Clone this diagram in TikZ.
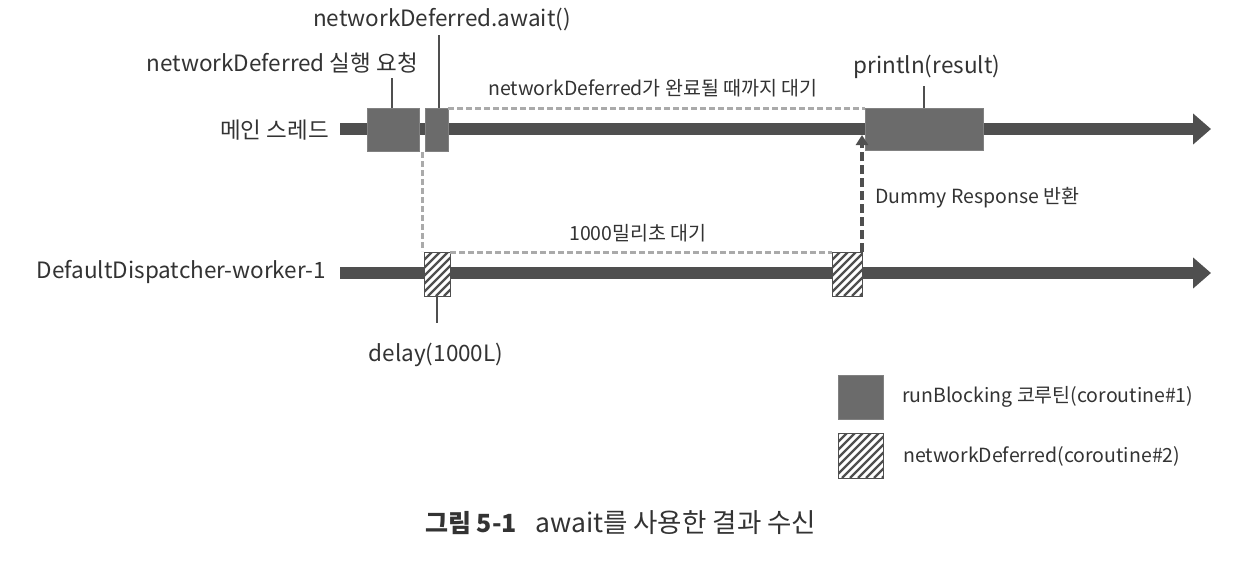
\documentclass[tikz,border=0pt]{standalone}
\usepackage{fontspec}
\setmainfont{Noto Sans CJK KR}
\usetikzlibrary{arrows.meta}
\definecolor{bar}{HTML}{4F4F4F}
\definecolor{box}{HTML}{6B6B6B}
\definecolor{txt}{HTML}{333333}
\definecolor{lite}{HTML}{AAAAAA}
\begin{document}
\begin{tikzpicture}[x=1pt,y=-1pt,
  lbl/.style={font=\fontsize{22.5}{26}\selectfont, text=txt, inner sep=0pt},
  lblsm/.style={font=\fontsize{19.5}{23}\selectfont, text=txt, inner sep=0pt},
  thread/.style={draw=bar, line width=12pt, -{Triangle[length=18pt,width=30pt]}},
  solidbox/.style={fill=box, draw=box!85!white, line width=0.6pt, inner sep=0pt, outer sep=0pt},
  hatchbox/.style={draw=bar, line width=1pt, inner sep=0pt, outer sep=0pt, fill=white,
    path picture={
      \foreach \i in {-100,-92,...,60}
        \draw[bar, line width=2.3pt] ([xshift=\i pt]path picture bounding box.south west) -- ++(100,-100);
    }},
  tick/.style={draw=bar, line width=1.6pt},
  waitline/.style={draw=lite, line width=3pt, dash pattern=on 6pt off 3pt},
  retarrow/.style={draw=bar, line width=3.5pt, dash pattern=on 9pt off 4pt, -{Triangle[length=10pt,width=12pt]}}
]
\useasboundingbox (0,0) rectangle (1242,568);
\fill[white] (0,0) rectangle (1242,568);

% thread lines
\coordinate (m0) at (340,129);
\coordinate (m1) at (1211,129);
\coordinate (w0) at (340,273);
\coordinate (w1) at (1211,273);
\draw[thread] (m0) -- (m1);
\draw[thread] (w0) -- (w1);

\node[lbl, anchor=east] (mainlbl) at (329,130) {메인 스레드};
\node[lbl, anchor=east] (worklbl) at (326,272) {DefaultDispatcher-worker-1};

% main thread boxes
\node[solidbox, anchor=north west, minimum width=52, minimum height=43] (b1) at (367,108) {};
\node[solidbox, anchor=north west, minimum width=23, minimum height=43] (b2) at (425,108) {};
\node[solidbox, anchor=north west, minimum width=118, minimum height=42] (bp) at (865,108) {};

% worker boxes
\node[hatchbox, anchor=north west, minimum width=26, minimum height=44] (h1) at (424,252) {};
\node[hatchbox, anchor=north west, minimum width=30, minimum height=44] (h2) at (832,252) {};

% waiting lines
\draw[waitline] (b2.north east) -- (bp.north west);
\coordinate (v0) at (422,152);
\coordinate (v1) at (422,251);
\draw[waitline] (v0) -- (v1);
\draw[waitline] (h1.north east) -- (h2.north west);

% return arrow
\coordinate (rtip) at (862,135);
\draw[retarrow] (h2.north east) -- (rtip);

% ticks and labels
\node[lbl, anchor=east] (l1) at (418,63) {networkDeferred 실행 요청};
\node[lbl] (l2) at (442,19) {networkDeferred.await()};
\node[lbl] (lp) at (927,67) {println(result)};
\node[lbl] (ld) at (436,355) {delay(1000L)};
\coordinate (t1) at (392,78);
\coordinate (t2) at (439,35);
\coordinate (tp) at (924,86);
\coordinate (td) at (437,323);
\draw[tick] (b1.north -| t1) -- (t1);
\draw[tick] (b2.north -| t2) -- (t2);
\draw[tick] (bp.north -| tp) -- (tp);
\draw[tick] (h1.south -| td) -- (td);

\node[lblsm] (wait1) at (653,88) {networkDeferred가 완료될 때까지 대기};
\node[lblsm] (wait2) at (638,233) {1000밀리초 대기};
\node[lblsm, anchor=west] (ret) at (875,198) {Dummy Response 반환};

% legend
\node[solidbox, anchor=north west, minimum width=45, minimum height=44] (lg1) at (838,375) {};
\node[hatchbox, anchor=north west, minimum width=45, minimum height=45] (lg2) at (838,433) {};
\node[lblsm, anchor=west] (lt1) at (902,397) {runBlocking 코루틴(coroutine\#1)};
\node[lblsm, anchor=west] (lt2) at (903,456) {networkDeferred(coroutine\#2)};

% caption
\node[anchor=west, inner sep=0pt, text=txt, font=\fontsize{25}{28}\selectfont\bfseries] (cap1) at (425,523) {그림 5-1};
\node[anchor=west, inner sep=0pt, text=txt, font=\fontsize{26.5}{30}\selectfont] (cap2) at (535,523) {await를 사용한 결과 수신};
\end{tikzpicture}
\end{document}
